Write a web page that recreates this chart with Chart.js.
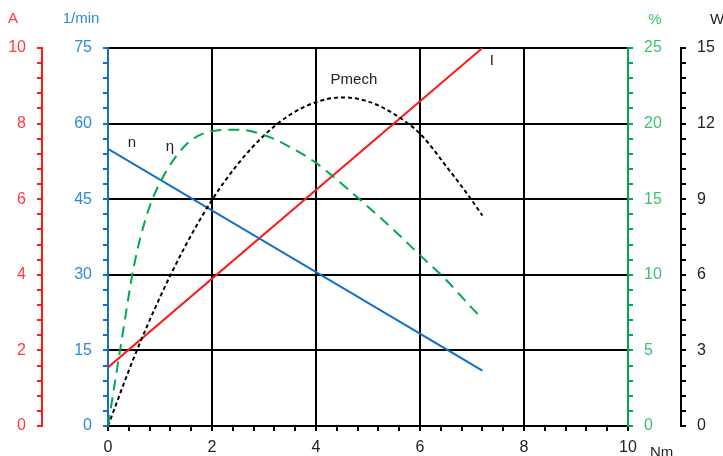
<!DOCTYPE html>
<html lang="en">
<head>
    <meta charset="UTF-8">
    <title>Motor characteristic</title>
    <script src="https://cdn.jsdelivr.net/npm/chart.js"></script>
    <style>
        body {
            margin: 0;
            background-color: white;
        }

        .chart-container {
            width: 723px;
            height: 456px;
            position: relative;
        }
    </style>
</head>
<body>
    <div class="chart-container">
        <canvas id="myChart"></canvas>
    </div>

    <script>
        // major tick values of each axis (minor ticks are 5 per interval)
        const torqueTicks = [0, 2, 4, 6, 8, 10];
        const currentTicks = [0, 2, 4, 6, 8, 10];
        const speedTicks = [0, 15, 30, 45, 60, 75];
        const effTicks = [0, 5, 10, 15, 20, 25];
        const powerTicks = [0, 3, 6, 9, 12, 15];

        // n (1/min) vs torque
        const speedTorque = [0, 7.2];
        const speedValues = [55, 11];

        // I (A) vs torque
        const currentTorque = [0, 7.2];
        const currentValues = [1.55, 10];

        // Pmech (W) vs torque
        const powerTorque = [0, 0.5, 1.0, 1.5, 2.0, 2.5, 3.0, 3.5, 4.0, 4.5, 5.0, 5.5, 6.0, 6.5, 7.0, 7.2];
        const powerValues = [0, 2.72, 5.11, 7.19, 8.97, 10.4, 11.53, 12.35, 12.85, 13.04, 12.88, 12.38, 11.6, 10.32, 8.95, 8.35];

        // eta (%) vs torque
        const effTorque = [0, 0.25, 0.5, 0.75, 1.0, 1.5, 2.0, 2.5, 3.0, 3.5, 4.0, 4.5, 5.0, 5.5, 6.0, 6.5, 7.0, 7.2];
        const effValues = [0, 5.4, 10.6, 14.0, 16.1, 18.6, 19.5, 19.6, 19.25, 18.45, 17.4, 16.0, 14.5, 12.95, 11.3, 9.67, 7.8, 7.1];

        const RED = '#ff1a1a';
        const RED_TEXT = '#ff3b3b';
        const BLUE = '#1270c4';
        const BLUE_TEXT = '#2d8ad6';
        const GREEN = '#00a850';
        const GREEN_TEXT = '#3cc273';
        const FONT = '"Liberation Sans", Arial, sans-serif';

        Chart.defaults.font.family = FONT;
        Chart.defaults.font.size = 16;

        function toPoints(xs, ys) {
            return xs.map((x, i) => ({ x: x, y: ys[i] }));
        }

        // add 4 minor ticks between each pair of major ticks
        function withMinors(majors) {
            const out = [];
            for (let i = 0; i < majors.length - 1; i++) {
                const step = (majors[i + 1] - majors[i]) / 5;
                for (let j = 0; j < 5; j++) {
                    out.push(Math.round((majors[i] + j * step) * 1000) / 1000);
                }
            }
            out.push(majors[majors.length - 1]);
            return out.map(v => ({ value: v }));
        }

        function yAxis(majors, color, textColor, position, weight, width, drawGrid) {
            return {
                type: 'linear',
                position: position,
                weight: weight,
                min: majors[0],
                max: majors[majors.length - 1],
                afterBuildTicks: (scale) => { scale.ticks = withMinors(majors); },
                afterFit: (scale) => { scale.width = width; },
                border: { color: color, width: 2 },
                grid: {
                    drawOnChartArea: drawGrid,
                    color: (ctx) => (drawGrid && ctx.index % 5 === 0 && ctx.index !== 0) ? '#000' : 'rgba(0,0,0,0)',
                    lineWidth: 2,
                    tickColor: color,
                    tickLength: 5,
                    tickWidth: 2
                },
                ticks: {
                    autoSkip: false,
                    color: textColor,
                    padding: 11,
                    callback: (value, index) => index % 5 === 0 ? String(value) : ''
                }
            };
        }

        // Axis titles and curve names
        const curveLabels = [
            { text: 'n', x: 0.46, y: 56.1 },
            { text: 'η', x: 1.19, y: 55.4 },
            { text: 'Pmech', x: 4.73, y: 68.6 },
            { text: 'I', x: 7.38, y: 72.4 }
        ];

        const textPlugin = {
            id: 'texts',
            afterDraw(chart) {
                const ctx = chart.ctx;
                const s = chart.scales;
                ctx.save();
                ctx.font = '15px ' + FONT;
                ctx.textBaseline = 'middle';
                ctx.textAlign = 'center';
                ctx.fillStyle = RED_TEXT;
                ctx.fillText('A', s.yA.right - 29, 19);
                ctx.fillStyle = BLUE_TEXT;
                ctx.fillText('1/min', s.yN.right - 27, 19);
                ctx.fillStyle = GREEN_TEXT;
                ctx.fillText('%', s.yP.left + 27, 20);
                ctx.fillStyle = '#222';
                ctx.textAlign = 'left';
                ctx.fillText('W', s.yW.left + 29, 20);
                ctx.fillText('Nm', s.x.right + 22, 453);
                ctx.textAlign = 'center';
                curveLabels.forEach(l => {
                    ctx.fillText(l.text, s.x.getPixelForValue(l.x), s.yN.getPixelForValue(l.y));
                });
                ctx.restore();
            }
        };

        const config = {
            type: 'line',
            data: {
                datasets: [
                    {
                        label: 'eta',
                        data: toPoints(effTorque, effValues),
                        yAxisID: 'yP',
                        borderColor: GREEN,
                        borderWidth: 2,
                        borderDash: [11, 7],
                        cubicInterpolationMode: 'monotone',
                        pointRadius: 0
                    },
                    {
                        label: 'Pmech',
                        data: toPoints(powerTorque, powerValues),
                        yAxisID: 'yW',
                        borderColor: '#000',
                        borderWidth: 2,
                        borderDash: [4, 3],
                        cubicInterpolationMode: 'monotone',
                        pointRadius: 0
                    },
                    {
                        label: 'n',
                        data: toPoints(speedTorque, speedValues),
                        yAxisID: 'yN',
                        borderColor: BLUE,
                        borderWidth: 2,
                        tension: 0,
                        pointRadius: 0
                    },
                    {
                        label: 'I',
                        data: toPoints(currentTorque, currentValues),
                        yAxisID: 'yA',
                        borderColor: RED,
                        borderWidth: 2,
                        tension: 0,
                        pointRadius: 0
                    }
                ]
            },
            options: {
                responsive: true,
                maintainAspectRatio: false,
                animation: false,
                layout: { padding: { top: 48, left: 0, right: 0, bottom: 0 } },
                plugins: {
                    legend: { display: false },
                    tooltip: { enabled: false }
                },
                scales: {
                    x: {
                        type: 'linear',
                        min: torqueTicks[0],
                        max: torqueTicks[torqueTicks.length - 1],
                        afterBuildTicks: (scale) => { scale.ticks = withMinors(torqueTicks); },
                        afterFit: (scale) => { scale.height = 30; },
                        border: { color: '#000', width: 2 },
                        grid: {
                            color: (ctx) => (ctx.index % 5 === 0 && ctx.index !== 0 && ctx.index !== 25) ? '#000' : 'rgba(0,0,0,0)',
                            lineWidth: 2,
                            tickColor: '#000',
                            tickLength: 5,
                            tickWidth: 2
                        },
                        ticks: {
                            autoSkip: false,
                            maxRotation: 0,
                            color: '#222',
                            padding: 7,
                            callback: (value, index) => index % 5 === 0 ? String(value) : ''
                        }
                    },
                    yA: yAxis(currentTicks, RED, RED_TEXT, 'left', 2, 42, false),
                    yN: yAxis(speedTicks, BLUE, BLUE_TEXT, 'left', 1, 66, true),
                    yP: yAxis(effTicks, GREEN, GREEN_TEXT, 'right', 1, 53, false),
                    yW: yAxis(powerTicks, '#000', '#222', 'right', 2, 42, false)
                }
            },
            plugins: [textPlugin]
        };

        const myChart = new Chart(document.getElementById('myChart'), config);
    </script>
</body>
</html>
